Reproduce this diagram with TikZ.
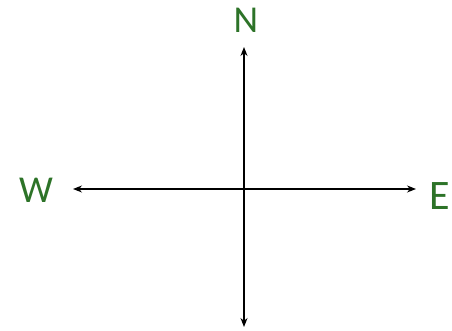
\documentclass[tikz,border=0pt]{standalone}
\usepackage{fontspec}
\setmainfont{Carlito}
\usetikzlibrary{arrows.meta}
\definecolor{lblgreen}{RGB}{45,115,40}
\tikzset{
  axis/.style={line width=1.2pt,black,{Stealth[length=9pt,width=7pt]}-{Stealth[length=9pt,width=7pt]}},
  lbl/.style={text=lblgreen,inner sep=0pt,anchor=center}
}
\begin{document}
\begin{tikzpicture}[x=1pt,y=1pt]
\useasboundingbox (0,0) rectangle (452,331);
\coordinate (top) at (244,284);
\coordinate (bot) at (244,4);
\coordinate (left) at (73,142);
\coordinate (right) at (416,142);
\draw[axis] (bot) -- (top);
\draw[axis] (left) -- (right);
\node[lbl,font=\fontsize{38}{38}\selectfont] (N) at (246,311) {N};
\node[lbl,font=\fontsize{38}{38}\selectfont] (W) at (36,141) {W};
\node[lbl,font=\fontsize{42}{42}\selectfont] (E) at (440,135) {E};
\end{tikzpicture}
\end{document}
